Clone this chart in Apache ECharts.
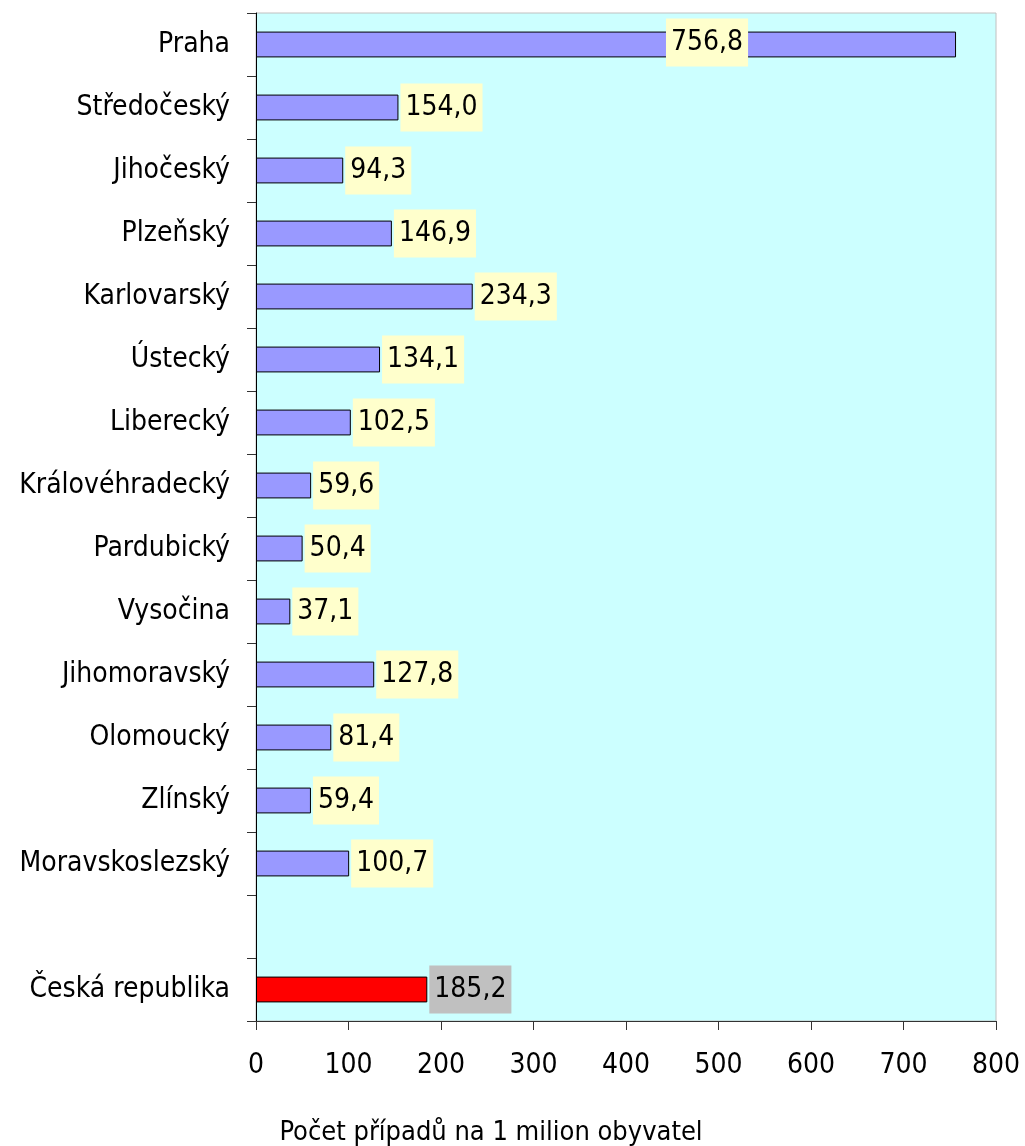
<!DOCTYPE html>
<html>
<head>
<meta charset="utf-8">
<script src="https://cdn.jsdelivr.net/npm/echarts@6/dist/echarts.min.js"></script>
<style>
html,body{margin:0;padding:0;background:#fff;}
#chart{width:1025px;height:1146px;}
</style>
</head>
<body>
<div id="chart"></div>
<script>
var categories = ['Praha','Středočeský','Jihočeský','Plzeňský','Karlovarský','Ústecký','Liberecký','Královéhradecký','Pardubický','Vysočina','Jihomoravský','Olomoucký','Zlínský','Moravskoslezský','','Česká republika'];
var values = [756.8,154.0,94.3,146.9,234.3,134.1,102.5,59.6,50.4,37.1,127.8,81.4,59.4,100.7,null,185.2];
var xTicks = {min:0, max:800, interval:100};
var axisTitle = 'Počet případů na 1 milion obyvatel';

var FONT = '"DejaVu Sans Condensed", "DejaVu Sans", sans-serif';
var FS = 28;

var data = values.map(function(v, i){
  if (v === null) return null;
  var isTotal = categories[i] === 'Česká republika';
  var item = {
    value: v,
    itemStyle: {color: isTotal ? '#FF0000' : '#9999FF', borderColor: '#000000', borderWidth: 1},
    label: {backgroundColor: isTotal ? '#C0C0C0' : '#FFFFCC'}
  };
  if (i === 0) {
    item.label.position = 'inside';
    item.label.offset = [101, -2];
  }
  return item;
});

var chart = echarts.init(document.getElementById('chart'));
chart.setOption({
  animation: false,
  backgroundColor: '#ffffff',
  grid: {left: 256, right: 29, top: 13, bottom: 125, containLabel: false, outerBoundsMode: 'none',
    show: true, backgroundColor: '#CCFFFF', borderColor: '#C0C0C0', borderWidth: 1},
  xAxis: {
    type: 'value', min: xTicks.min, max: xTicks.max, interval: xTicks.interval,
    splitLine: {show: false},
    axisLine: {show: true, lineStyle: {color: '#333333', width: 1}},
    axisTick: {show: true, length: 9, lineStyle: {color: '#333333'}},
    axisLabel: {color: '#000', fontFamily: FONT, fontSize: FS, margin: 31},
    name: axisTitle, nameLocation: 'middle', nameGap: 98,
    nameTextStyle: {color: '#000', fontFamily: FONT, fontSize: 27, padding: [0, 270, 0, 0]}
  },
  yAxis: {
    type: 'category', data: categories, inverse: true,
    axisLine: {show: true, lineStyle: {color: '#000000', width: 1}},
    axisTick: {show: true, length: 9, lineStyle: {color: '#333333'}},
    axisLabel: {color: '#000', fontFamily: FONT, fontSize: FS, margin: 26}
  },
  series: [{
    type: 'bar',
    data: data,
    barWidth: '41%',
    label: {
      show: true, position: 'right', distance: 2,
      color: '#000', fontFamily: FONT, fontSize: FS,
      padding: [11, 5, 9, 5],
      formatter: function(p){ return p.value.toFixed(1).replace('.', ','); }
    }
  }]
});
</script>
</body>
</html>
